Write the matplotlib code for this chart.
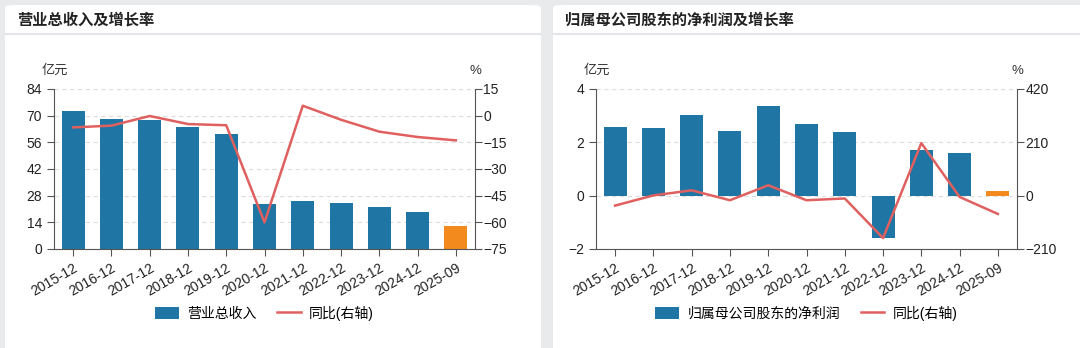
import matplotlib
matplotlib.use("Agg")
import matplotlib.pyplot as plt
from matplotlib.patches import FancyBboxPatch
from matplotlib.lines import Line2D

plt.rcParams["font.family"] = ["Liberation Sans", "Noto Sans CJK SC", "DejaVu Sans"]

periods = ["2015-12", "2016-12", "2017-12", "2018-12", "2019-12", "2020-12",
           "2021-12", "2022-12", "2023-12", "2024-12", "2025-09"]

# 营业总收入 (亿元) and YoY (%)
revenue = [72.6, 68.2, 67.5, 64.2, 60.4, 23.8, 25.0, 24.3, 22.0, 19.2, 12.1]
revenue_yoy = [-6.6, -5.6, -0.2, -4.7, -5.4, -60.0, 5.6, -2.3, -9.0, -12.0, -13.9]

# 归属母公司股东的净利润 (亿元) and YoY (%)
net_profit = [2.59, 2.55, 3.01, 2.44, 3.36, 2.70, 2.39, -1.60, 1.72, 1.60, 0.16]
net_profit_yoy = [-39, 1, 21, -18, 41, -18, -11, -167, 207, -5, -72]

BLUE = "#1f76a4"
ORANGE = "#f28a1e"
RED = "#e0605f"
AXIS = "#555555"
BG = "#e8eaec"

W, H = 1080, 348
fig = plt.figure(figsize=(W / 100, H / 100), dpi=100)
fig.patch.set_facecolor(BG)


def px_box(x0, y0, x1, y1):
    """pixel box (top-left origin) -> figure fraction [l, b, w, h]"""
    return [x0 / W, (H - y1) / H, (x1 - x0) / W, (y1 - y0) / H]


def draw_panel(x0, x1, title):
    fig.add_artist(FancyBboxPatch((x0 / W, -0.05), (x1 - x0) / W, (H - 5) / H + 0.05,
                                  boxstyle="round,pad=0,rounding_size=0.008",
                                  transform=fig.transFigure, facecolor="white",
                                  edgecolor="none", zorder=-10))
    fig.add_artist(Line2D([x0 / W, x1 / W], [(H - 34) / H] * 2, transform=fig.transFigure,
                          color="#e3e5e8", lw=1.5, zorder=-9))
    fig.text((x0 + 12) / W, (H - 20) / H, title, fontsize=11, fontweight="bold",
             va="center", ha="left", color="#222222")


def draw_chart(box, bars, yoy, ylim, yticks, y2lim, y2ticks, bar_label):
    ax = fig.add_axes(px_box(*box))
    ax.patch.set_alpha(0)
    colors = [BLUE] * (len(bars) - 1) + [ORANGE]
    x = range(len(periods))
    ax.bar(x, bars, width=0.6, color=colors, zorder=2, label=bar_label)
    ax.set_xlim(-0.5, len(periods) - 0.5)
    ax.set_ylim(*ylim)
    ax.set_yticks(yticks)
    ax.set_xticks(list(x))
    ax.set_xticklabels(periods, rotation=30, ha="right", rotation_mode="anchor")
    ax.grid(axis="y", color="#dddddd", ls=(0, (4, 3)), lw=0.8, zorder=0)
    for side in ["top", "right"]:
        ax.spines[side].set_visible(False)
    for side in ["left", "bottom"]:
        ax.spines[side].set_color(AXIS)
    ax.tick_params(colors=AXIS, labelcolor="#222222", labelsize=10, length=5)

    ax2 = ax.twinx()
    ax2.plot(x, yoy, color=RED, lw=1.8, zorder=3, label="同比(右轴)")
    ax2.set_ylim(*y2lim)
    ax2.set_yticks(y2ticks)
    for side in ["top", "left", "bottom"]:
        ax2.spines[side].set_visible(False)
    ax2.spines["right"].set_color(AXIS)
    ax2.tick_params(colors=AXIS, labelcolor="#222222", labelsize=10, length=5, pad=1)

    l, b, w, h = px_box(*box)
    fig.text(l - 12 / W, b + h + 18 / H, "亿元", fontsize=9.5, ha="left", va="center",
             color="#333333")
    fig.text(l + w, b + h + 18 / H, "%", fontsize=9.5, ha="center", va="center",
             color="#333333")

    handles = ax.get_legend_handles_labels()[0] + ax2.get_legend_handles_labels()[0]
    labels = [bar_label, "同比(右轴)"]
    fig.legend(handles, labels, loc="center", ncol=2, frameon=False, fontsize=10,
               bbox_to_anchor=(l + w / 2, (H - 313) / H), handlelength=1.7,
               handleheight=1.0, columnspacing=1.5, handletextpad=0.6)
    return ax


draw_panel(5, 541, "营业总收入及增长率")
draw_panel(553, 1095, "归属母公司股东的净利润及增长率")

draw_chart((54, 89, 475, 249), revenue, revenue_yoy,
           (0, 84), [0, 14, 28, 42, 56, 70, 84],
           (-75, 15), [-75, -60, -45, -30, -15, 0, 15], "营业总收入")
draw_chart((596, 89, 1017, 249), net_profit, net_profit_yoy,
           (-2, 4), [-2, 0, 2, 4],
           (-210, 420), [-210, 0, 210, 420], "归属母公司股东的净利润")

fig.savefig("out.png", dpi=100, facecolor=fig.get_facecolor())
